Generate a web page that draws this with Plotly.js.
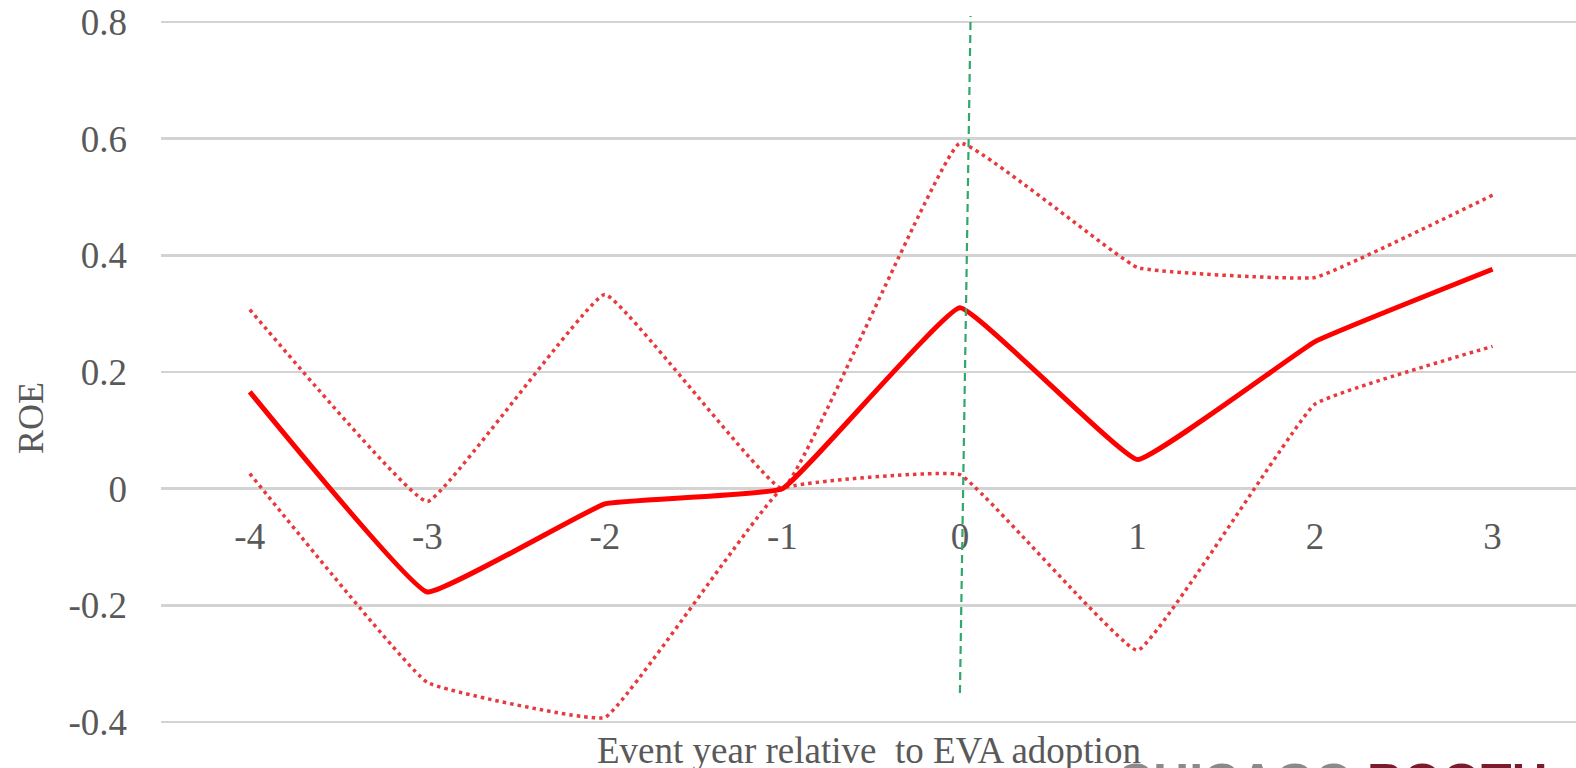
<!DOCTYPE html>
<html>
<head>
<meta charset="utf-8">
<script src="https://cdn.plot.ly/plotly-3.0.1.min.js"></script>
<style>html,body{margin:0;padding:0;background:#fff;}#chart{width:1576px;height:768px;}</style>
</head>
<body>
<div id="chart"></div>
<script>
const eventYears = ["-4", "-3", "-2", "-1", "0", "1", "2", "3"];
const roeEstimate = [0.166, -0.177, -0.026, 0.0, 0.310, 0.050, 0.252, 0.376];
const roeUpper = [0.307, -0.022, 0.333, 0.0, 0.592, 0.379, 0.362, 0.503];
const roeLower = [0.026, -0.332, -0.392, 0.0, 0.024, -0.277, 0.145, 0.244];
const yTickVals = [-0.4, -0.2, 0, 0.2, 0.4, 0.6, 0.8];
const yTickText = ["-0.4", "-0.2", "0", "0.2", "0.4", "0.6", "0.8"];
const adoptionYear = "0";

const serif = "Liberation Serif, Times New Roman, serif";
const gray = "#595959";
const yMin = -0.41, yMax = 0.81;

const traces = [
  {x: eventYears, y: roeUpper, type: "scatter", mode: "lines",
   line: {color: "#e8393c", width: 3.5, dash: "3.5px,4px", shape: "spline", smoothing: 0.25}, hoverinfo: "skip"},
  {x: eventYears, y: roeLower, type: "scatter", mode: "lines",
   line: {color: "#e8393c", width: 3.5, dash: "3.5px,4px", shape: "spline", smoothing: 0.25}, hoverinfo: "skip"},
  {x: eventYears, y: roeEstimate, type: "scatter", mode: "lines",
   line: {color: "#ff0000", width: 5, shape: "spline", smoothing: 0.25}}
];

const adoptIdx = eventYears.indexOf(adoptionYear);

const layout = {
  width: 1576, height: 768,
  margin: {l: 161, r: 0, t: 16, b: 40},
  paper_bgcolor: "#ffffff", plot_bgcolor: "#ffffff",
  showlegend: false,
  xaxis: {
    type: "category", range: [-0.5, 7.47],
    anchor: "free", position: (0 - yMin) / (yMax - yMin),
    showgrid: false, zeroline: false, showline: false,
    ticks: "", ticklabelstandoff: 22,
    tickfont: {family: serif, size: 37, color: gray}
  },
  yaxis: {
    range: [yMin, yMax], domain: [0, 1],
    tickvals: yTickVals, ticktext: yTickText,
    showgrid: true, gridcolor: "#d3d3d3", gridwidth: 2.5,
    zeroline: false, showline: false, ticks: "", ticklabelstandoff: 33,
    tickfont: {family: serif, size: 37, color: gray}
  },
  shapes: [
    {type: "line", xref: "x", yref: "y", x0: adoptIdx, x1: adoptIdx + 0.06, y0: -0.35, y1: 0.81,
     line: {color: "#2fa86a", width: 2.2, dash: "8px,5px"}, layer: "above"}
  ],
  annotations: [
    {text: "ROE", xref: "paper", yref: "paper", x: -0.092, y: 0.435, xanchor: "center", yanchor: "middle",
     textangle: -90, showarrow: false, font: {family: serif, size: 36, color: gray}},
    {text: "Event year relative&nbsp; to EVA adoption", xref: "paper", yref: "paper", x: 0.5, y: -0.031,
     xanchor: "center", yanchor: "middle", showarrow: false, font: {family: serif, size: 37, color: gray}},
    {text: "<span style='color:#8a8a8a'>CHICAGO</span> <span style='color:#7b1c2c'>BOOTH</span>",
     xref: "paper", yref: "paper", x: (1115 - 161) / 1415, y: -0.034, xanchor: "left", yanchor: "top",
     showarrow: false, font: {family: "Liberation Sans, Arial, sans-serif", size: 50, color: "#8a8a8a", weight: "bold"}}
  ]
};

Plotly.newPlot("chart", traces, layout, {displayModeBar: false, staticPlot: true});
</script>
</body>
</html>
